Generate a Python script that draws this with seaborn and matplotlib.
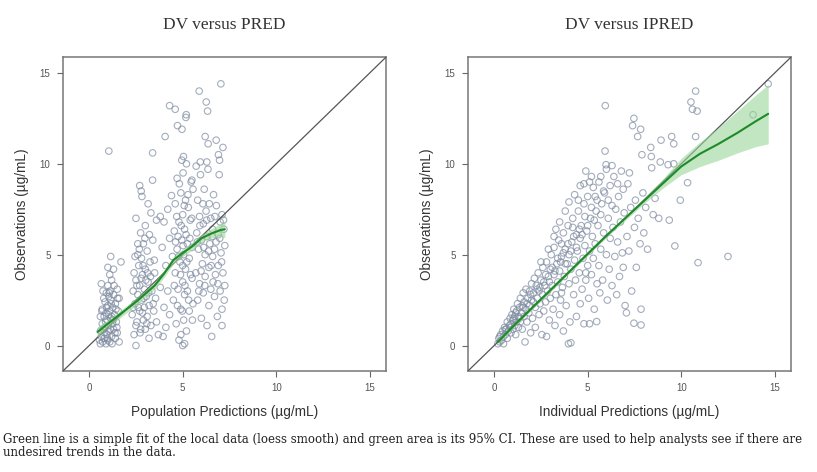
import numpy as np
import pandas as pd
import matplotlib
matplotlib.use("Agg")
import matplotlib.pyplot as plt
import seaborn as sns

# ---- DV versus PRED ----
pred_x = [
    0.55, 0.6, 0.65, 0.7, 0.72, 0.75, 0.8, 0.8, 0.85, 0.85,
    0.9, 0.9, 0.92, 0.95, 0.95, 1.0, 1.0, 1.0, 1.02, 1.05,
    1.05, 1.1, 1.1, 1.12, 1.15, 1.15, 1.2, 1.2, 1.25, 1.25,
    1.3, 1.3, 1.35, 1.4, 1.4, 1.45, 1.5, 1.5, 1.55, 1.6,
    0.65, 0.7, 1.0, 1.15, 1.3, 0.6, 1.2, 1.6, 1.05, 1.7,
    0.6, 0.68, 0.78, 0.82, 0.88, 0.93, 0.97, 1.03, 1.08, 1.13,
    1.18, 1.22, 1.28, 1.33, 1.38, 1.43, 1.48, 1.52, 0.74, 1.1,
    2.3, 2.35, 2.4, 2.4, 2.45, 2.5, 2.5, 2.55, 2.6, 2.6,
    2.65, 2.7, 2.7, 2.75, 2.75, 2.8, 2.8, 2.85, 2.9, 2.9,
    2.95, 2.95, 3.0, 3.0, 3.0, 3.05, 3.1, 3.1, 3.15, 3.2,
    3.2, 3.25, 3.3, 3.3, 3.35, 3.4, 3.45, 3.5, 3.55, 3.6,
    2.7, 2.78, 2.82, 3.39, 3.39, 2.5, 3.7, 3.6, 2.6, 3.15,
    2.35, 2.45, 2.5, 2.55, 2.62, 2.68, 2.72, 2.78, 2.85, 2.88,
    2.92, 2.98, 3.03, 3.08, 3.12, 3.18, 3.22, 3.28, 3.42, 3.48,
    3.8, 3.9, 4.0, 4.0, 4.1, 4.1, 4.2, 4.2, 4.3, 4.3,
    4.4, 4.06, 3.8, 4.45, 3.95,
    4.5, 4.55, 4.6, 4.6, 4.65, 4.7, 4.7, 4.75, 4.8, 4.8,
    4.85, 4.9, 4.9, 4.95, 4.95, 5.0, 5.0, 5.0, 5.02, 5.05,
    5.05, 5.1, 5.1, 5.15, 5.15, 5.2, 5.2, 5.25, 5.25, 5.3,
    5.35, 5.35, 5.4, 5.45, 5.5, 5.5, 5.55, 5.55, 4.75, 5.0,
    4.3, 4.6, 5.19, 5.17, 4.72, 4.96, 5.04, 5.49, 4.9, 5.1,
    4.55, 4.62, 4.68, 4.72, 4.78, 4.82, 4.88, 4.92, 4.98, 5.02,
    5.08, 5.12, 5.18, 5.22, 5.28, 5.32, 5.38, 5.42, 5.48, 5.52,
    5.7, 5.75, 5.8, 5.8, 5.85, 5.9, 5.9, 5.95, 6.0, 6.0,
    6.05, 6.1, 6.1, 6.15, 6.2, 6.2, 6.25, 6.3, 6.3, 6.35,
    6.4, 6.4, 6.45, 6.5, 6.5, 6.55, 6.6, 6.6, 6.65, 6.7,
    6.7, 6.75, 6.8, 6.85, 6.9, 6.9, 6.95, 7.0, 7.0, 7.05,
    7.1, 7.1, 7.15, 7.2, 7.25, 7.25, 5.88, 7.04, 6.26, 6.33,
    6.2, 6.36, 6.79, 7.15, 6.91, 6.97, 5.94, 6.29, 5.72, 7.1,
    5.78, 5.86, 5.92, 5.98, 6.08, 6.12, 6.18, 6.28, 6.38, 6.42,
    6.52, 6.58, 6.62, 6.72, 6.78, 6.88, 6.98, 7.08, 7.18, 7.22,
]
pred_dv = [
    0.3, 0.8, 0.5, 1.2, 0.2, 0.9, 1.6, 0.4, 2.4, 1.0,
    0.1, 1.8, 2.9, 0.6, 1.4, 2.2, 0.3, 3.3, 1.1, 2.7,
    0.8, 1.9, 0.2, 3.0, 1.5, 2.5, 0.5, 3.6, 1.2, 2.1,
    0.9, 2.8, 1.7, 0.4, 2.3, 1.3, 3.1, 0.7, 1.9, 0.2,
    3.4, 2.0, 4.3, 4.9, 4.2, 1.6, 1.6, 2.6, 10.7, 4.6,
    0.1, 1.9, 2.6, 0.7, 1.3, 2.1, 0.4, 1.7, 2.9, 0.9,
    2.3, 0.1, 1.4, 3.3, 0.7, 2.0, 1.0, 2.6, 3.0, 3.9,
    1.7, 3.0, 0.6, 4.0, 2.3, 0.0, 3.6, 1.3, 2.8, 5.0,
    4.4, 1.9, 3.3, 0.9, 6.2, 2.5, 4.8, 3.9, 1.4, 5.6,
    2.1, 3.1, 0.9, 4.2, 6.6, 2.7, 1.6, 5.2, 3.5, 0.4,
    2.2, 4.6, 1.1, 7.3, 3.0, 5.8, 1.9, 4.0, 2.6, 6.9,
    8.8, 8.5, 8.2, 9.1, 10.6, 7.0, 0.6, 1.3, 5.6, 7.8,
    2.1, 4.9, 1.1, 3.3, 2.1, 5.3, 0.7, 3.7, 1.8, 4.4,
    2.6, 5.9, 3.6, 1.2, 4.0, 2.9, 6.1, 3.8, 2.3, 4.7,
    3.2, 5.4, 2.1, 6.8, 1.0, 4.4, 7.5, 3.0, 5.9, 1.7,
    8.25, 11.5, 7.1, 4.9, 0.5,
    2.5, 6.3, 4.0, 7.8, 1.2, 5.3, 9.2, 3.1, 6.8, 0.3,
    4.6, 8.4, 2.0, 5.8, 10.2, 0.0, 3.5, 7.2, 9.5, 1.4,
    5.0, 6.4, 2.8, 8.0, 4.2, 0.8, 10.0, 5.6, 3.0, 7.6,
    1.9, 4.8, 6.9, 9.0, 3.7, 5.4, 2.3, 8.6, 6.0, 4.4,
    13.2, 13.0, 12.7, 12.55, 12.1, 11.9, 10.4, 9.1, 0.6, 0.1,
    3.3, 5.7, 7.1, 2.2, 4.9, 8.9, 3.9, 6.6, 1.9, 5.5,
    7.7, 3.3, 6.1, 4.6, 8.3, 2.5, 5.9, 3.9, 7.0, 1.4,
    4.0, 6.2, 2.5, 8.0, 5.3, 3.4, 7.1, 9.4, 1.5, 5.8,
    4.5, 6.7, 2.9, 8.6, 5.0, 3.8, 7.4, 1.1, 6.0, 9.7,
    4.3, 2.2, 5.6, 7.0, 3.1, 0.5, 6.4, 4.9, 8.3, 2.7,
    5.3, 3.9, 7.7, 1.6, 6.1, 4.4, 9.4, 3.0, 6.8, 5.1,
    2.0, 7.2, 4.0, 6.4, 3.3, 5.5, 14.0, 14.4, 13.4, 12.9,
    11.5, 11.1, 11.3, 10.9, 10.5, 10.2, 10.1, 10.1, 9.87, 1.1,
    5.7, 3.0, 6.6, 4.1, 7.8, 5.4, 3.3, 6.9, 5.2, 7.8,
    4.4, 6.0, 3.5, 7.1, 5.7, 3.4, 5.9, 4.6, 6.9, 2.5,
]

# loess fit of DV on PRED with its 95% CI
pred_fit_x = [0.45, 1.0, 1.5, 2.0, 2.5, 3.0, 3.5, 4.0, 4.5, 5.0, 5.5, 6.0, 6.5, 7.0, 7.25]
pred_fit_y = [0.75, 1.2, 1.6, 2.0, 2.4, 2.85, 3.3, 3.95, 4.7, 5.1, 5.45, 5.9, 6.15, 6.35, 6.4]
pred_fit_lo = [0.45, 1.0, 1.4, 1.8, 2.2, 2.65, 3.1, 3.75, 4.5, 4.9, 5.25, 5.7, 5.9, 6.0, 5.95]
pred_fit_hi = [1.05, 1.4, 1.8, 2.2, 2.6, 3.05, 3.5, 4.15, 4.9, 5.3, 5.65, 6.1, 6.4, 6.7, 6.85]

# ---- DV versus IPRED ----
ipred_x = [
    0.2, 0.25, 0.3, 0.35, 0.4, 0.45, 0.5, 0.5, 0.55, 0.6,
    0.65, 0.7, 0.7, 0.75, 0.8, 0.85, 0.9, 0.9, 0.95, 1.0,
    1.0, 1.05, 1.1, 1.1, 1.15, 1.2, 1.2, 1.25, 1.3, 1.3,
    1.35, 1.4, 1.4, 1.45, 1.5, 1.5, 1.55, 1.6, 1.6, 1.65,
    1.7, 1.7, 1.75, 1.8, 1.85, 1.9, 1.9, 1.95, 2.0, 2.0,
    2.05, 2.1, 2.15, 2.2, 2.2, 2.25, 2.3, 2.35, 2.4, 2.4,
    2.45, 2.5, 2.55, 2.6, 2.6, 2.65, 2.7, 2.75, 2.8, 2.8,
    2.85, 2.9, 2.95, 3.0, 3.0, 3.05, 3.1, 3.15, 3.2, 3.2,
    3.25, 3.3, 3.35, 3.4, 3.45, 3.5, 3.5, 3.55, 3.6, 3.65,
    3.7, 3.7, 3.75, 3.8, 3.85, 3.9, 3.95, 3.97, 4.0, 4.0,
    4.05, 4.1, 4.1, 4.15, 4.2, 4.25, 4.3, 4.35, 4.4, 4.4,
    4.45, 4.5, 4.55, 4.6, 4.6, 4.65, 4.7, 4.75, 4.8, 4.8,
    4.85, 4.9, 4.95, 5.0, 5.0, 5.05, 5.1, 5.1, 5.15, 5.2,
    5.25, 5.3, 5.3, 5.35, 5.4, 5.45, 5.48, 5.5, 5.55, 5.6,
    5.6, 5.65, 5.7, 5.75, 5.8, 5.85, 5.93, 5.98, 5.94, 5.9,
    6.0, 6.05, 6.1, 6.15, 6.2, 6.2, 6.3, 6.35, 6.4, 6.45,
    6.5, 6.55, 6.6, 6.65, 6.7, 6.75, 6.8, 6.85, 6.9, 6.95,
    7.0, 7.07, 7.1, 7.15, 7.2, 7.23, 7.3, 7.35, 7.4, 7.47,
    7.47, 7.5, 7.55, 7.6, 7.67, 7.7, 7.8, 7.83, 7.85, 7.85,
    7.9, 7.95, 8.0, 8.1, 8.2, 8.37, 8.4, 8.42, 8.5, 8.6,
    8.88, 8.92, 9.3, 9.36, 9.49, 9.6, 9.6, 9.66, 9.95, 10.34,
    10.52, 10.6, 10.77, 10.77, 10.85, 10.9, 12.5, 13.84, 14.65, 8.8,
    3.2, 3.5, 3.8, 4.0, 4.3, 4.6, 4.2, 4.8, 3.6, 4.9,
    5.2, 5.4, 2.5, 2.9, 3.3, 4.5, 5.1, 5.7, 6.0, 6.3,
    0.3, 0.6, 0.85, 1.05, 1.15, 1.35, 1.55, 1.75, 1.95, 2.1,
    2.3, 2.45, 2.65, 2.75, 2.95, 3.1, 3.25, 3.4, 3.55, 3.7,
    3.8, 3.95, 4.1, 4.25, 4.4, 4.55, 4.7, 4.85, 5.0, 5.2,
    5.35, 5.5, 5.7, 5.85, 6.1, 6.3, 6.6, 6.9, 3.6, 4.9,
]
ipred_dv = [
    0.1, 0.4, 0.2, 0.6, 0.3, 0.8, 0.5, 0.1, 1.0, 0.6,
    0.9, 1.3, 0.4, 0.8, 1.1, 1.5, 0.7, 1.2, 1.7, 0.9,
    1.4, 2.0, 1.1, 1.6, 0.6, 1.9, 1.3, 2.3, 1.0, 1.6,
    2.1, 2.6, 1.3, 1.8, 2.2, 0.9, 2.9, 1.6, 2.4, 0.2,
    2.0, 3.1, 1.3, 2.6, 1.8, 3.0, 2.2, 0.7, 2.5, 3.4,
    1.5, 2.9, 3.7, 2.1, 1.0, 3.3, 2.6, 4.0, 1.7, 3.0,
    2.3, 3.6, 0.6, 2.8, 4.3, 1.9, 3.3, 2.4, 4.6, 0.5,
    3.0, 3.8, 1.4, 2.6, 4.2, 5.0, 3.3, 2.0, 3.9, 5.4,
    1.1, 2.8, 4.5, 3.5, 5.8, 1.7, 4.1, 2.5, 4.9, 3.2,
    6.2, 0.8, 3.8, 5.3, 2.2, 4.5, 6.6, 0.1, 3.4, 5.0,
    1.3, 0.15, 4.2, 5.7, 7.0, 2.8, 4.7, 3.6, 6.1, 1.6,
    5.2, 7.4, 4.0, 2.3, 5.9, 6.6, 3.1, 4.8, 7.8, 1.2,
    5.5, 3.6, 6.3, 8.2, 4.4, 2.6, 5.2, 1.2, 7.0, 3.9,
    6.0, 8.7, 4.8, 2.0, 5.6, 7.4, 1.32, 3.4, 6.6, 9.0,
    4.4, 2.9, 5.3, 7.8, 3.6, 6.2, 10.7, 9.95, 13.2, 8.4,
    5.0, 2.5, 7.0, 4.2, 8.8, 5.9, 3.3, 6.5, 9.3, 4.9,
    7.5, 2.8, 5.7, 8.2, 3.8, 6.8, 9.6, 5.1, 4.3, 7.3,
    2.2, 1.8, 6.0, 8.9, 5.2, 9.5, 7.6, 3.0, 12.1, 12.5,
    1.23, 6.5, 8.0, 4.3, 11.5, 7.0, 5.6, 11.9, 2.0, 1.13,
    10.5, 8.4, 6.2, 7.6, 5.3, 10.9, 10.4, 9.78, 7.2, 8.1,
    10.1, 11.3, 9.95, 6.9, 11.5, 11.1, 10.0, 5.48, 8.0, 8.96,
    13.4, 13.0, 14.0, 11.5, 12.9, 4.56, 4.9, 12.7, 14.4, 7.0,
    6.0, 6.8, 7.4, 7.9, 8.3, 8.8, 6.5, 8.9, 5.6, 9.6,
    9.3, 8.2, 4.6, 5.3, 6.4, 8.0, 9.0, 9.3, 9.7, 9.9,
    0.5, 0.9, 1.0, 1.5, 1.8, 1.5, 2.1, 2.3, 2.8, 2.4,
    3.1, 3.2, 3.5, 3.9, 3.5, 4.3, 4.1, 4.8, 4.6, 5.1,
    4.5, 5.6, 5.2, 6.0, 5.4, 6.4, 6.1, 7.1, 6.6, 7.6,
    6.9, 8.0, 7.2, 8.5, 8.0, 7.7, 8.9, 8.6, 2.9, 4.0,
]

# loess fit of DV on IPRED with its 95% CI
ipred_fit_x = [0.2, 1, 2, 3, 4, 5, 6, 7, 8, 9, 10, 11, 12, 13, 14, 14.65]
ipred_fit_y = [0.2, 1.05, 2.05, 3.05, 4.05, 5.05, 6.05, 7.0, 7.95, 8.9, 9.85, 10.55, 11.1, 11.7, 12.35, 12.75]
ipred_fit_lo = [0.05, 0.95, 1.95, 2.95, 3.95, 4.95, 5.95, 6.88, 7.8, 8.65, 9.4, 9.85, 10.2, 10.6, 10.95, 11.1]
ipred_fit_hi = [0.35, 1.15, 2.15, 3.15, 4.15, 5.15, 6.15, 7.12, 8.1, 9.15, 10.3, 11.2, 12.0, 12.9, 13.8, 14.35]

panels = [
    ("DV versus PRED", "Population Predictions (\u00b5g/mL)",
     pred_x, pred_dv, pred_fit_x, pred_fit_y, pred_fit_lo, pred_fit_hi),
    ("DV versus IPRED", "Individual Predictions (\u00b5g/mL)",
     ipred_x, ipred_dv, ipred_fit_x, ipred_fit_y, ipred_fit_lo, ipred_fit_hi),
]

caption = ("Green line is a simple fit of the local data (loess smooth) and green area is its 95% CI. "
           "These are used to help analysts see if there are\nundesired trends in the data.")

sns.set_theme(style="white")
plt.rcParams["font.family"] = ["Liberation Sans", "DejaVu Sans"]

fig = plt.figure(figsize=(8.17, 4.72), dpi=100)
axes = [fig.add_axes([0.0771, 0.214, 0.3954, 0.665]),
        fig.add_axes([0.5728, 0.214, 0.3954, 0.665])]

point_col = "#7d8aa0"
lim = (-1.4, 15.87)

for ax, (title, xlabel, xs, ys, fx, fy, flo, fhi) in zip(axes, panels):
    df = pd.DataFrame({"x": xs, "y": ys})
    sns.scatterplot(data=df, x="x", y="y", ax=ax, marker="o", s=22,
                    facecolor="none", edgecolor=point_col, linewidth=0.8,
                    alpha=0.7, zorder=2)
    ax.axline((0, 0), slope=1, color="#555555", lw=0.9, zorder=3)
    ax.fill_between(fx, flo, fhi, color="#98d698", alpha=0.6, lw=0, zorder=4)
    fit = pd.DataFrame({"x": fx, "y": fy})
    sns.lineplot(data=fit, x="x", y="y", ax=ax, color="#1f8a2a", lw=1.5, zorder=5)

    ax.set_xlim(*lim)
    ax.set_ylim(*lim)
    ax.set_xticks([0, 5, 10, 15])
    ax.set_yticks([0, 5, 10, 15])
    ax.tick_params(axis="both", which="both", direction="out", length=4, width=0.8,
                   color="#666666", labelsize=7, labelcolor="#555555", pad=5,
                   bottom=True, left=True)
    for sp in ax.spines.values():
        sp.set_color("#777777")
        sp.set_linewidth(1.1)
    ax.set_xlabel(xlabel, fontsize=9.8, color="#333333", labelpad=8)
    ax.set_ylabel("Observations (\u00b5g/mL)", fontsize=9.8, color="#333333", labelpad=8)
    ax.set_title(title, fontsize=12.5, family=["Liberation Serif", "DejaVu Serif"],
                 color="#333333", pad=20)

fig.text(0.004, 0.055, caption, fontsize=8.5, family=["DejaVu Serif"],
         color="#222222", ha="left", va="center", linespacing=1.05)

fig.savefig("out.png", dpi=100)
